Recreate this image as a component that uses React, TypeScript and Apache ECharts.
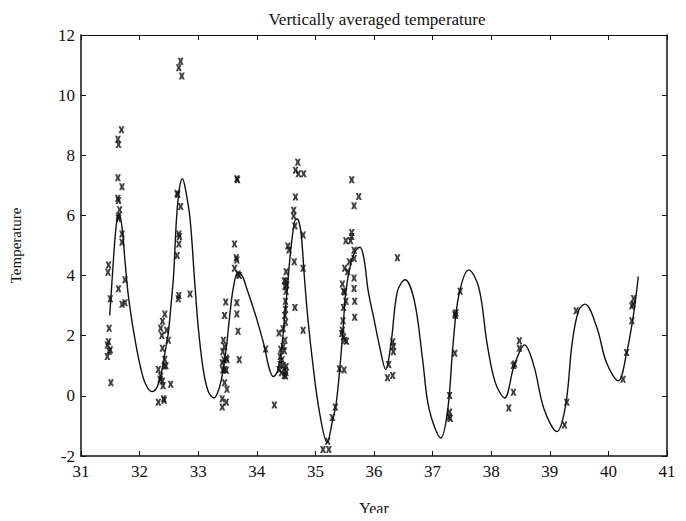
import React, { useEffect, useRef } from "react";
import * as echarts from "echarts";

const titleText = "Vertically averaged temperature";
const xName = "Year";
const yName = "Temperature";
const xRange = [31, 41];
const yRange = [-2, 12];

// fitted curve [year, temperature]
const fitCurve: [number, number][] = [
  [31.49, 2.67], [31.54, 4.13], [31.6, 5.65], [31.65, 6.06], [31.7, 5.6], [31.75, 4.5],
  [31.81, 3.3], [31.91, 2.0], [32.01, 1.0], [32.1, 0.4], [32.21, 0.14], [32.3, 0.3],
  [32.37, 0.75], [32.43, 1.4], [32.49, 2.1], [32.54, 3.1], [32.58, 4.0], [32.63, 5.9],
  [32.68, 6.9], [32.73, 7.22], [32.78, 6.9], [32.86, 5.9], [32.94, 3.8], [33.0, 2.3],
  [33.08, 0.95], [33.17, 0.15], [33.27, -0.07], [33.35, 0.2], [33.42, 0.8], [33.48, 1.6],
  [33.54, 2.7], [33.6, 3.6], [33.68, 4.11], [33.75, 4.0], [33.82, 3.62], [33.99, 2.61],
  [34.13, 1.64], [34.2, 1.0], [34.28, 0.64], [34.35, 0.8], [34.41, 1.4], [34.47, 2.5],
  [34.53, 3.8], [34.6, 5.2], [34.67, 5.88], [34.71, 5.85], [34.76, 5.33], [34.81, 4.0],
  [34.87, 2.6], [34.96, 1.0], [35.07, -0.55], [35.2, -1.55], [35.3, -0.75], [35.35, -0.32],
  [35.41, 0.77], [35.47, 2.18], [35.52, 3.48], [35.61, 4.46], [35.69, 4.84], [35.76, 4.94],
  [35.83, 4.55], [35.9, 3.5], [36.0, 2.55], [36.1, 1.6], [36.2, 0.87],
  [36.29, 1.74], [36.4, 3.48], [36.53, 3.86], [36.69, 3.15], [36.83, 1.2], [36.94, -0.43],
  [37.14, -1.4], [37.26, -0.43], [37.35, 1.74], [37.45, 3.37], [37.62, 4.19], [37.79, 3.59],
  [37.93, 1.74], [38.07, 0.44], [38.23, -0.07], [38.39, 0.99], [38.57, 1.69], [38.73, 0.99],
  [38.9, -0.43], [39.12, -1.19], [39.27, -0.32], [39.38, 1.74], [39.49, 2.83], [39.6, 3.05],
  [39.8, 2.29], [39.97, 1.09], [40.17, 0.5], [40.31, 1.42], [40.43, 2.72], [40.51, 3.97],
];

// observations, grouped by season
const obs1: [number, number][] = [
  [31.69, 8.85], [31.63, 8.53], [31.64, 8.36], [31.63, 7.25], [31.7, 6.95], [31.63, 6.57],
  [31.64, 6.5], [31.66, 6.19], [31.64, 5.98], [31.64, 5.9], [31.7, 5.38], [31.7, 5.11],
  [31.47, 4.35], [31.46, 4.11], [31.64, 3.56], [31.75, 3.86], [31.5, 3.23], [31.7, 3.05],
  [31.75, 3.1], [31.48, 2.25], [31.47, 1.8], [31.45, 1.69], [31.5, 1.53], [31.48, 1.48],
  [31.45, 1.31], [31.51, 0.44],
];
const obs2: [number, number][] = [
  [32.7, 11.13], [32.67, 10.91], [32.72, 10.64], [32.64, 6.74], [32.65, 6.7], [32.7, 6.3],
  [32.67, 5.38], [32.68, 5.3], [32.67, 5.05], [32.64, 4.67], [32.67, 3.34], [32.66, 3.23],
  [32.86, 3.39], [32.43, 2.72], [32.39, 2.48], [32.36, 2.25], [32.46, 2.18], [32.49, 1.85],
  [32.38, 2.01], [32.39, 1.58], [32.43, 1.22], [32.42, 0.99], [32.45, 1.0], [32.32, 0.88],
  [32.36, 0.66], [32.35, 0.55], [32.39, 0.49], [32.4, 0.34], [32.53, 0.39], [32.32, -0.21],
  [32.41, -0.1], [32.42, -0.15],
];
const obs3: [number, number][] = [
  [33.67, 7.19], [33.66, 7.22], [33.62, 5.05], [33.65, 4.59], [33.66, 4.52], [33.62, 4.24],
  [33.68, 4.05], [33.7, 4.0], [33.47, 3.12], [33.45, 2.67], [33.66, 3.1], [33.66, 2.72],
  [33.68, 2.15], [33.7, 1.2], [33.43, 1.85], [33.45, 1.64], [33.42, 1.47], [33.44, 1.2],
  [33.41, 1.1], [33.48, 1.26], [33.49, 1.2], [33.45, 0.88], [33.48, 0.85], [33.42, 0.86],
  [33.45, 0.44], [33.49, 0.22], [33.41, -0.1], [33.48, -0.21], [33.41, -0.37], [34.15, 1.56],
  [34.3, -0.3],
];
const obs4: [number, number][] = [
  [34.7, 7.77], [34.66, 7.5], [34.71, 7.39], [34.8, 7.39], [34.66, 6.61], [34.63, 6.17],
  [34.63, 5.98], [34.65, 5.65], [34.79, 5.35], [34.53, 4.98], [34.55, 4.85], [34.64, 4.46],
  [34.65, 2.94], [34.79, 4.24], [34.79, 2.18], [34.5, 4.13], [34.47, 3.83], [34.5, 3.82],
  [34.48, 3.64], [34.51, 3.7], [34.5, 3.48], [34.49, 3.15], [34.49, 2.88], [34.48, 2.67],
  [34.49, 2.45], [34.45, 2.23], [34.38, 2.09], [34.48, 1.85], [34.45, 1.64], [34.41, 1.55],
  [34.47, 1.5], [34.4, 1.31], [34.43, 1.2], [34.4, 1.04], [34.45, 1.0], [34.5, 0.98],
  [34.38, 0.88], [34.48, 0.85], [34.5, 0.77], [34.42, 0.77], [34.47, 0.68], [34.49, 0.66],
];
const obs5: [number, number][] = [
  [35.62, 7.19], [35.74, 6.63], [35.66, 6.32], [35.62, 5.43], [35.52, 5.16], [35.6, 5.16],
  [35.62, 5.3], [35.5, 4.24], [35.55, 4.13], [35.58, 4.46], [35.66, 4.57], [35.66, 4.84],
  [35.46, 3.72], [35.48, 3.48], [35.5, 3.45], [35.52, 3.15], [35.48, 2.94], [35.66, 3.92],
  [35.66, 3.57], [35.67, 3.15], [35.67, 2.61], [35.47, 2.5], [35.46, 2.18], [35.45, 2.07],
  [35.48, 1.96], [35.5, 1.85], [35.53, 1.82], [35.41, 0.9], [35.49, 0.86], [35.34, -0.37],
  [35.29, -0.72], [35.21, -1.51], [35.13, -1.78], [35.23, -1.78],
];
const obs6: [number, number][] = [
  [36.4, 4.59], [36.32, 1.8], [36.33, 1.64], [36.33, 1.47], [36.25, 1.04], [36.23, 0.6],
  [36.32, 0.68], [37.29, 0.01], [37.29, -0.54], [37.28, -0.7], [37.3, -0.75], [37.38, 1.42],
  [37.38, 2.72], [37.39, 2.67], [37.4, 2.76], [37.47, 3.48], [38.3, -0.4], [38.38, 0.12],
  [38.38, 1.01], [38.4, 1.06], [38.48, 1.83], [38.48, 1.58], [39.25, -0.97], [39.29, -0.21],
  [39.45, 2.83], [40.25, 0.55], [40.31, 1.44], [40.4, 2.5], [40.4, 2.99], [40.42, 3.05],
  [40.43, 3.24],
];

const allObs = [...obs1, ...obs2, ...obs3, ...obs4, ...obs5, ...obs6];

const xMark =
  "path://M0,0 L3.6,0 L5,2.8 L6.4,0 L10,0 L7.2,5 L10,10 L6.4,10 L5,7.2 L3.6,10 L0,10 L2.8,5 Z";

const FONT = "'Liberation Serif', 'DejaVu Serif', serif";

export default function App() {
  const ref = useRef<HTMLDivElement>(null);
  useEffect(() => {
    if (!ref.current) return;
    const chart = echarts.init(ref.current, undefined, { renderer: "svg" });
    const tickLabel = { fontFamily: FONT, fontSize: 17, color: "#111" };
    const tick = { show: true, inside: true, length: 5, lineStyle: { color: "#111" } };
    chart.setOption({
      animation: false,
      backgroundColor: "#fff",
      title: {
        text: titleText,
        left: 372,
        textAlign: "center",
        top: 6,
        textStyle: { fontFamily: FONT, fontSize: 17, fontWeight: "normal", color: "#111" },
      },
      grid: {
        left: 79,
        right: 19,
        top: 35,
        bottom: 56,
        show: false,
      },
      xAxis: [
        {
          type: "value",
          min: xRange[0],
          max: xRange[1],
          interval: 1,
          position: "bottom",
          name: xName,
          nameLocation: "middle",
          nameGap: 44,
          nameTextStyle: { fontFamily: FONT, fontSize: 16, color: "#111" },
          axisLine: { show: true, onZero: false, lineStyle: { color: "#111", width: 1.5 } },
          axisTick: tick,
          axisLabel: { ...tickLabel, margin: 7 },
          splitLine: { show: false },
        },
        {
          type: "value",
          min: xRange[0],
          max: xRange[1],
          interval: 1,
          position: "top",
          axisLine: { show: true, onZero: false, lineStyle: { color: "#111", width: 1 } },
          axisTick: tick,
          axisLabel: { show: false },
          splitLine: { show: false },
        },
      ],
      yAxis: [
        {
          type: "value",
          min: yRange[0],
          max: yRange[1],
          interval: 2,
          position: "left",
          name: yName,
          nameLocation: "middle",
          nameGap: 58,
          nameRotate: 90,
          nameTextStyle: { fontFamily: FONT, fontSize: 15, color: "#111" },
          axisLine: { show: true, onZero: false, lineStyle: { color: "#111", width: 1.5 } },
          axisTick: tick,
          axisLabel: { ...tickLabel, margin: 6 },
          splitLine: { show: false },
        },
        {
          type: "value",
          min: yRange[0],
          max: yRange[1],
          interval: 2,
          position: "right",
          axisLine: { show: true, onZero: false, lineStyle: { color: "#111", width: 1.5 } },
          axisTick: tick,
          axisLabel: { show: false },
          splitLine: { show: false },
        },
      ],
      series: [
        {
          type: "line",
          xAxisIndex: 0,
          yAxisIndex: 0,
          data: fitCurve,
          smooth: 0.35,
          showSymbol: false,
          lineStyle: { color: "#111", width: 1.4 },
        },
        {
          type: "scatter",
          xAxisIndex: 0,
          yAxisIndex: 0,
          data: allObs,
          symbol: xMark,
          symbolSize: [6, 7],
          itemStyle: { color: "#111" },
        },
      ],
    });
    return () => chart.dispose();
  }, []);
  return <div ref={ref} style={{ width: 686, height: 521, margin: -8 }} />;
}
